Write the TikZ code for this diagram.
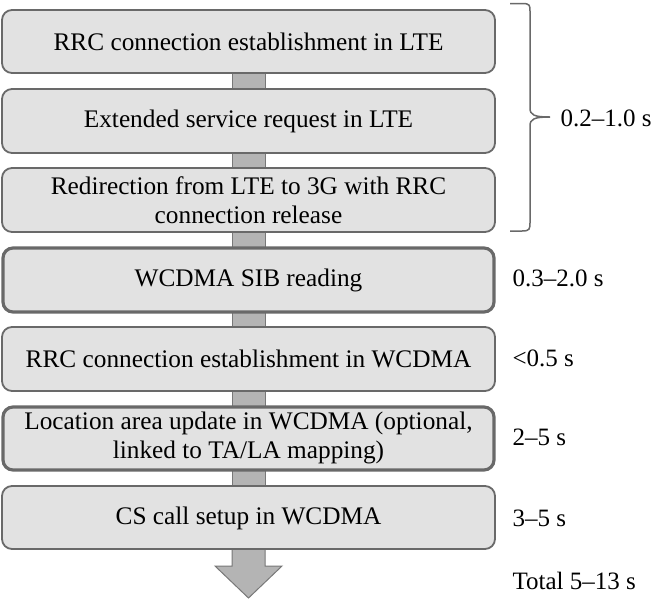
\documentclass[tikz,border=0pt]{standalone}
\usepackage{fontspec}
\setmainfont{Liberation Serif}
\begin{document}
\begin{tikzpicture}[x=1pt,y=-1pt,
  stepbox/.style={draw=boxline, fill=boxfill, line width=1.8pt, rounded corners=10pt},
  thickbox/.style={stepbox, line width=3.2pt},
  boxtext/.style={font=\fontsize{25.3}{29}\selectfont, align=center},
  timetext/.style={font=\fontsize{25}{29}\selectfont, anchor=west},
  bar/.style={fill=barfill, draw=barline, line width=1pt}]
\definecolor{boxfill}{RGB}{226,226,226}
\definecolor{boxline}{RGB}{105,105,105}
\definecolor{barfill}{RGB}{180,180,180}
\definecolor{barline}{RGB}{120,120,120}
\useasboundingbox (0,0) rectangle (661,600);
% connector bars (behind boxes)
\draw[bar] (232,70) rectangle (265,92);
\draw[bar] (232,150) rectangle (265,171);
\draw[bar] (232,229) rectangle (265,250);
\draw[bar] (232,309) rectangle (265,330);
\draw[bar] (232,388) rectangle (265,409);
\draw[bar] (232,467) rectangle (265,489);
% bottom arrow
\coordinate (arrowtip) at (248.5,598);
\draw[bar] (232,546) -- (232,566) -- (215,566) -- (arrowtip) -- (282,566) -- (265,566) -- (265,546);
% boxes
\draw[stepbox] (2,10) rectangle (495,73);
\draw[stepbox] (2,89) rectangle (495,153);
\draw[stepbox] (2,168) rectangle (495,232);
\draw[thickbox] (3,248) rectangle (494,312);
\draw[stepbox] (2,327) rectangle (495,391);
\draw[thickbox] (3,407) rectangle (494,470);
\draw[stepbox] (2,486) rectangle (495,549);
% texts
\node[boxtext] (b1) at (248.5,42) {RRC connection establishment in LTE};
\node[boxtext] (b2) at (248.5,121) {Extended service request in LTE};
\node[boxtext] (b3) at (248.5,200) {Redirection from LTE to 3G with RRC\\connection release};
\node[boxtext] (b4) at (248.5,280) {WCDMA SIB reading};
\node[boxtext] (b5) at (248.5,359) {RRC connection establishment in WCDMA};
\node[boxtext] (b6) at (248.5,438) {Location area update in WCDMA (optional,\\linked to TA/LA mapping)};
\node[boxtext] (b7) at (248.5,518) {CS call setup in WCDMA};
% brace
\draw[boxline, line width=1.5pt] (510,3.5) -- (522,3.5) .. controls (530,3.5) and (530,5) .. (530,12)
  -- (530,108) .. controls (530,115) and (534,117) .. (550,117)
  .. controls (534,117) and (530,119) .. (530,126)
  -- (530,222) .. controls (530,229) and (530,231) .. (522,231) -- (510,231);
% times
\node[timetext] (t1) at (557,118) {0.2–1.0 s};
\node[timetext] (t2) at (509,278) {0.3–2.0 s};
\node[timetext] (t3) at (509,358) {<0.5 s};
\node[timetext] (t4) at (509,437) {2–5 s};
\node[timetext] (t5) at (509,518) {3–5 s};
\node[timetext] (t6) at (509,581) {Total 5–13 s};
\end{tikzpicture}
\end{document}
